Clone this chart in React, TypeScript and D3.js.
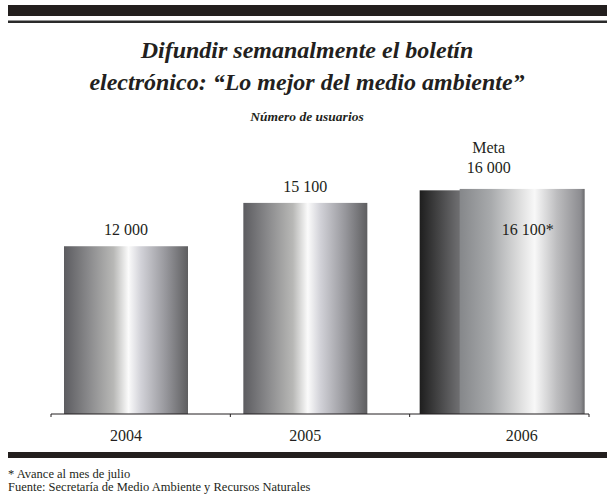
import React from 'react';
import * as d3 from 'd3';

const years = ['2004', '2005', '2006'];
const usuarios = [12000, 15100, 16100];
const valueLabels = ['12 000', '15 100', '16 100*'];
const metaValue = 16000;
const metaLabel = ['Meta', '16 000'];

const W = 607;
const H = 495;
const serif = 'Liberation Serif';

const App: React.FC = () => {
  const x = d3.scaleBand<string>().domain(years).range([51, 589]);
  const y = d3.scaleLinear().domain([0, 20000]).range([414, 134.4]);

  const barOffset = 13;
  const barW = 124;
  const frontShift = 37; // avance bar drawn in front of meta bar

  const barX = (i: number) => {
    const base = (x(years[i]) ?? 0) + barOffset;
    return i === years.length - 1 ? base + frontShift : base;
  };
  const metaX = (x(years[years.length - 1]) ?? 0) + barOffset - 3;

  const ticks = [...years.map(d => x(d) ?? 0), x.range()[1]];

  return (
    <svg width={W} height={H}
      style={{ position: 'absolute', left: 0, top: 0, display: 'block', background: '#fff', fontFamily: serif }}>
      <defs>
        <linearGradient id="metal" x1="0" x2="1" y1="0" y2="0">
          <stop offset="0%" stopColor="#5c5c60" />
          <stop offset="20%" stopColor="#8a8a8c" />
          <stop offset="40%" stopColor="#b8b8b6" />
          <stop offset="52%" stopColor="#fbfbfb" />
          <stop offset="62%" stopColor="#d2d2d8" />
          <stop offset="82%" stopColor="#97979c" />
          <stop offset="100%" stopColor="#5e5e60" />
        </linearGradient>
        <linearGradient id="metalBack" x1="0" x2="1" y1="0" y2="0">
          <stop offset="0%" stopColor="#1e1e1e" />
          <stop offset="30%" stopColor="#6a6a6c" />
          <stop offset="60%" stopColor="#9a9a9c" />
          <stop offset="100%" stopColor="#c0c0c0" />
        </linearGradient>
        <linearGradient id="metalFront" x1="0" x2="1" y1="0" y2="0">
          <stop offset="0%" stopColor="#85878a" />
          <stop offset="25%" stopColor="#a8aaac" />
          <stop offset="50%" stopColor="#e2e2e2" />
          <stop offset="60%" stopColor="#f8f8f8" />
          <stop offset="78%" stopColor="#bcbcbe" />
          <stop offset="97%" stopColor="#8c8c90" />
          <stop offset="100%" stopColor="#6a6a6c" />
        </linearGradient>
      </defs>

      {/* header rules */}
      <rect x={8} y={5} width={W - 8} height={11} fill="#231f1e" />
      <rect x={8} y={20.5} width={W - 8} height={2.5} fill="#2a2a2a" />

      <text x={307} y={58} textAnchor="middle" fontSize={24}
        fontWeight="bold" fontStyle="italic" fill="#231f20">
        Difundir semanalmente el boletín
      </text>
      <text x={307} y={90} textAnchor="middle" fontSize={24}
        fontWeight="bold" fontStyle="italic" fill="#231f20">
        electrónico: “Lo mejor del medio ambiente”
      </text>
      <text x={307} y={121} textAnchor="middle" fontSize={13.5}
        fontWeight="bold" fontStyle="italic" fill="#231f20">
        Número de usuarios
      </text>

      {/* meta bar (behind) */}
      <rect x={metaX} y={y(metaValue)} width={barW} height={y(0) - y(metaValue)} fill="url(#metalBack)" />

      {usuarios.map((v, i) => (
        <rect key={years[i]} x={barX(i)} y={y(v)} width={i === 2 ? barW + 1 : barW}
          height={y(0) - y(v)}
          fill={i === 2 ? 'url(#metalFront)' : 'url(#metal)'} />
      ))}

      {/* value labels */}
      {usuarios.map((v, i) => (
        i < 2 ? (
          <text key={'l' + i} x={barX(i) + barW / 2} y={y(v) - 11} textAnchor="middle"
            fontSize={16} fill="#231f20">{valueLabels[i]}</text>
        ) : (
          <text key={'l' + i} x={barX(i) + barW / 2 + 6} y={235} textAnchor="middle"
            fontSize={16} fill="#231f20">{valueLabels[i]}</text>
        )
      ))}
      <text x={metaX + 69} y={153} textAnchor="middle" fontSize={16} fill="#231f20">
        {metaLabel[0]}
      </text>
      <text x={metaX + 69} y={173} textAnchor="middle" fontSize={16} fill="#231f20">
        {metaLabel[1]}
      </text>

      {/* axis */}
      <line x1={x.range()[0]} x2={x.range()[1]} y1={y(0)} y2={y(0)} stroke="#231f20" strokeWidth={1} />
      {ticks.map((t, i) => (
        <line key={'t' + i} x1={t} x2={t} y1={y(0)} y2={y(0) + 3} stroke="#231f20" strokeWidth={1} />
      ))}
      {years.map((d, i) => (
        <text key={'y' + d} x={barX(i) + barW / 2} y={441} textAnchor="middle"
          fontSize={16} fill="#231f20">{d}</text>
      ))}

      {/* footer rule and notes */}
      <rect x={8} y={452} width={W - 8} height={6} fill="#231f1e" />
      <text x={8} y={478} fontSize={12.5} fill="#231f20">* Avance al mes de julio</text>
      <text x={8} y={491} fontSize={12.5} fill="#231f20">
        Fuente: Secretaría de Medio Ambiente y Recursos Naturales
      </text>
    </svg>
  );
};

export default App;
